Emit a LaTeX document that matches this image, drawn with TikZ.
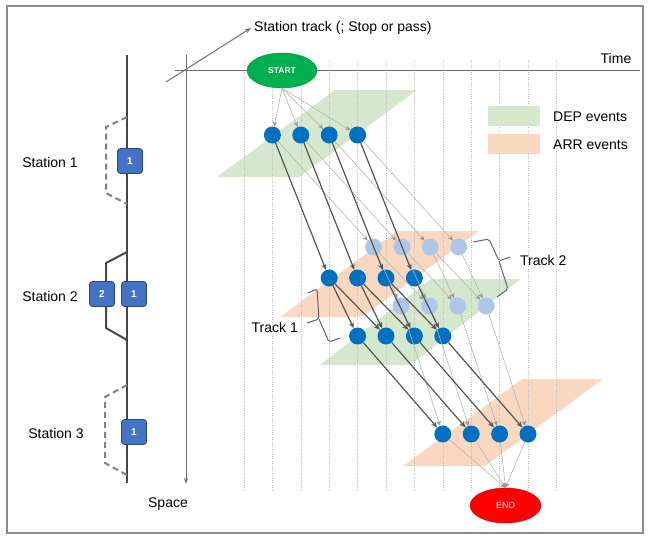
\documentclass[tikz,border=0pt]{standalone}
\usepackage{fontspec}
\setmainfont{Liberation Sans}
\usetikzlibrary{arrows.meta,shapes.geometric}
\definecolor{framegray}{RGB}{140,140,140}
\definecolor{axisgray}{RGB}{110,110,110}
\definecolor{trackgray}{RGB}{70,70,70}
\definecolor{dashgray}{RGB}{130,130,130}
\definecolor{evblue}{RGB}{0,112,192}
\definecolor{evlight}{RGB}{176,198,232}
\definecolor{boxblue}{RGB}{68,114,196}
\definecolor{boxedge}{RGB}{40,70,130}
\definecolor{depgreen}{RGB}{213,232,205}
\definecolor{arrorange}{RGB}{249,215,192}
\definecolor{startgreen}{RGB}{0,176,80}
\definecolor{startedge}{RGB}{0,140,60}
\definecolor{endred}{RGB}{255,0,0}
\definecolor{endedge}{RGB}{190,0,0}
\definecolor{thickgray}{RGB}{85,85,85}
\definecolor{thingray}{RGB}{180,180,180}
\definecolor{thinhead}{RGB}{150,150,150}
\definecolor{dotgray}{RGB}{190,190,190}
\definecolor{bracegray}{RGB}{100,100,100}
\tikzset{
  lbl/.style={font=\fontsize{14}{16}\selectfont, inner sep=0pt},
  ev/.style={circle, fill=evblue, minimum size=17pt, inner sep=0pt},
  evl/.style={circle, fill=evlight, minimum size=17pt, inner sep=0pt},
  trackbox/.style={draw=boxedge, line width=0.8pt, fill=boxblue, rounded corners=3pt,
    minimum width=25pt, minimum height=25pt, inner sep=0pt, text=white,
    font=\fontsize{10}{11}\selectfont\bfseries},
  thickarr/.style={draw=thickgray, line width=1.2pt, -{Stealth[length=6pt,width=5pt]}},
  thinarr/.style={draw=thingray, line width=0.6pt, -{Stealth[length=5pt,width=4.5pt,color=thinhead]}},
  axis/.style={draw=axisgray, line width=1pt},
  dotline/.style={draw=dotgray, line width=0.6pt, dash pattern=on 0.8pt off 1.6pt},
  bracestyle/.style={draw=bracegray, line width=1pt, rounded corners=2pt},
}
\begin{document}
\begin{tikzpicture}[x=1pt,y=-1pt]
\useasboundingbox (0,0) rectangle (649,536);
\draw[framegray, line width=1.5pt] (7,6) rectangle (643,533);

% event planes
\fill[depgreen] (217,177) -- (299,177) -- (417,90) -- (335,90) -- cycle;
\fill[arrorange] (280,317) -- (362,317) -- (479,231) -- (397,231) -- cycle;
\fill[depgreen] (320,365) -- (410,365) -- (521,279) -- (431,279) -- cycle;
\fill[arrorange] (403,466) -- (485,466) -- (603,379) -- (522,379) -- cycle;

% time grid
\foreach \i in {0,...,11}{
  \draw[dotline] ({244+28.4*\i},60) -- ({244+28.4*\i},490);
}

% axes
\draw[axis] (175,70) -- (640,70);
\draw[axis, -{Stealth[length=6pt,width=4pt]}] (186,55) -- (186,484);
\coordinate (diagS) at (166,82);
\coordinate (diagE) at (251,28);
\draw[axis, -{Stealth[length=6pt,width=4.5pt]}] (diagS) -- (diagE);
\node[lbl, anchor=west] (tracklbl) at (254,28) {Station track (; Stop or pass)};
\node[lbl] (timelbl) at (616,58) {Time};
\node[lbl] (spacelbl) at (168,504) {Space};

% legend
\fill[depgreen] (488,106) rectangle (540,126);
\fill[arrorange] (488,134) rectangle (540,154);
\node[lbl, anchor=west] (deplbl) at (553,117) {DEP events};
\node[lbl, anchor=west] (arrlbl) at (553,145) {ARR events};

% track schematic
\draw[trackgray, line width=2pt] (127,55) -- (127,483);
\draw[dashgray, line width=2pt, dash pattern=on 6pt off 4pt] (127,117) -- (106,127) -- (106,193) -- (127,204);
\draw[trackgray, line width=2pt] (127,252) -- (106,263) -- (106,328) -- (127,340);
\draw[dashgray, line width=2pt, dash pattern=on 6pt off 4pt] (127,385) -- (105,397) -- (105,463) -- (127,475);
\node[trackbox] (s1t1) at (130,161) {1};
\node[trackbox] (s2t2) at (102,294) {2};
\node[trackbox] (s2t1) at (134,294) {1};
\node[trackbox] (s3t1) at (134,432) {1};
\node[lbl] (st1) at (50,162) {Station 1};
\node[lbl] (st2) at (50,296) {Station 2};
\node[lbl] (st3) at (56,433) {Station 3};

% start / end
\node[ellipse, draw=startedge, fill=startgreen, minimum width=70pt, minimum height=35pt, inner sep=0pt,
  text=white, font=\fontsize{8.5}{9}\selectfont\bfseries] (START) at (282,70.5) {START};
\node[ellipse, draw=endedge, fill=endred, minimum width=71pt, minimum height=35pt, inner sep=0pt,
  text=white, font=\fontsize{9}{10}\selectfont] (END) at (505.5,505.5) {END};

% events
\foreach \i in {1,...,4}{
  \node[ev]  (A\i) at ({244+28.4*\i},135) {};
  \node[evl] (C\i) at ({373.5+28.4*(\i-1)},247) {};
  \node[ev]  (B\i) at ({244+28.4*(\i+2)},278) {};
  \node[evl] (E\i) at ({401+28.4*(\i-1)},306) {};
  \node[ev]  (D\i) at ({244+28.4*(\i+3)},336) {};
  \node[ev]  (F\i) at ({244+28.4*(\i+6)},434) {};
}

% connectors
\foreach \i in {1,...,4}{
  \draw[thinarr] (START.south) -- (A\i);
  \draw[thinarr] (A\i) -- (C\i);
  \draw[thinarr] (C\i) -- (E\i);
  \draw[thinarr] (E\i) -- (F\i);
  \draw[thinarr] (F\i) -- (END.north);
}
\foreach \i/\j in {1/2,2/3,3/4}{
  \draw[thinarr] (C\i) -- (E\j);
}
\foreach \i in {1,...,4}{
  \draw[thickarr] (A\i) -- (B\i);
  \draw[thickarr] (B\i) -- (D\i);
  \draw[thickarr] (D\i) -- (F\i);
}
\foreach \i/\j in {1/2,2/3,3/4}{
  \draw[thickarr] (B\i) -- (D\j);
}

% braces
\draw[bracestyle] (473,242) -- (489,239) -- (499,261) -- (510,257);
\draw[bracestyle] (499,261) -- (508,289) -- (497,297);
\node[lbl, anchor=west] (track2) at (520,260) {Track 2};
\draw[bracestyle] (308,293) -- (317,289) -- (319,319) -- (307,323);
\draw[bracestyle] (319,319) -- (329,342) -- (340,338);
\node[lbl, anchor=east] (track1) at (298,327) {Track 1};
\end{tikzpicture}
\end{document}
